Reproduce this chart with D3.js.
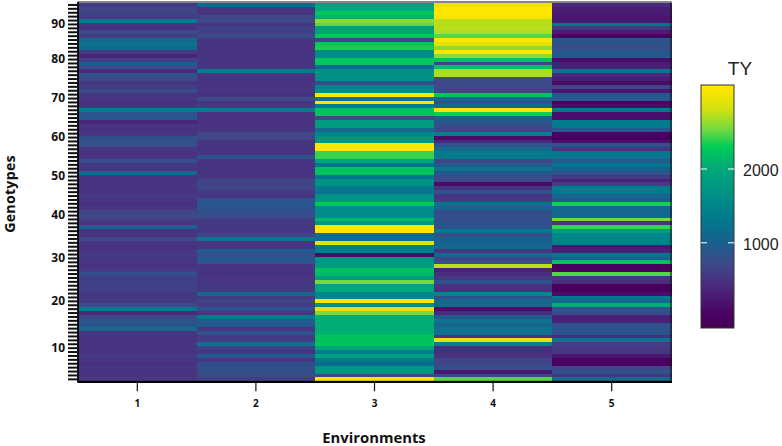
<!DOCTYPE html>
<html>
<head>
<meta charset="utf-8">
<script src="https://d3js.org/d3.v7.min.js"></script>
<style>
body{margin:0;background:#fff;}
svg{display:block;}
</style>
</head>
<body>
<svg id="svg1" width="782" height="446"></svg>
<script>
// genotype rows, top of the chart first
const genotypes = d3.range(97, 0, -1);
const environments = ["1", "2", "3", "4", "5"];
// which rows carry a label on the y axis
const tickRows = [9, 21, 32, 43, 53, 63, 73, 83, 92];
const tickLabels = ["10", "20", "30", "40", "50", "60", "70", "80", "90"];
const legendTicks = [1000, 2000];

// TY per genotype row (top row first)
const env1 = [596,687,687,626,1385,537,530,748,626,1096,
1190,1157,596,418,656,1031,779,447,842,717,
537,626,748,537,545,530,506,1385,842,935,
418,537,530,545,810,830,790,537,530,545,
779,566,566,1096,537,520,545,537,506,596,
537,530,545,687,717,626,537,1031,506,537,
717,537,530,545,566,566,537,530,596,810,
656,670,656,640,566,580,566,748,1352,447,
687,842,860,1096,537,530,545,537,520,537,
596,537,530,545,537,520,560];
const env2 = [1157,506,537,687,717,537,656,656,717,537,
537,520,537,545,537,530,537,1385,537,530,
537,545,537,530,748,537,596,1385,506,506,
506,506,537,687,687,537,537,530,537,842,
537,530,537,530,537,687,687,687,596,537,
842,903,842,810,779,596,566,566,566,687,
1222,537,537,967,779,935,842,537,537,530,
537,537,566,566,1063,596,687,596,842,537,
1352,935,935,537,842,596,596,1222,656,537,
935,537,810,810,810,748,656];
const env3 = [1918,1986,2259,2090,2640,2520,1885,1918,2259,687,
2293,2362,1550,1583,2259,2259,1157,1650,1683,1616,
748,1484,1650,3190,1222,3190,1385,2225,2225,748,
1817,1817,1096,1484,1683,1683,3190,3190,2431,2431,
1986,1255,2225,2225,1255,1683,1683,1319,1222,1650,
1717,2293,1583,1550,1583,2156,1750,3190,3190,1157,
1096,2957,1418,1418,167,1750,1750,1817,2225,2156,
1817,2570,1986,1986,1484,1550,3190,1650,2957,2605,
2054,2054,2054,2054,2088,2225,2225,2225,1952,1385,
1885,1319,1157,1750,1750,748,3190];
const env4 = [3028,3190,3190,3100,2780,2760,2770,2740,2500,3190,
2957,2640,3190,2640,2225,687,2225,2720,2730,717,
717,717,717,2225,1096,842,1157,3190,2328,1000,
903,748,687,1418,194,447,842,1096,1319,1319,
687,935,1222,935,779,687,194,537,842,537,
596,1222,1063,810,810,810,842,842,1319,779,
1031,1031,1096,537,1157,687,748,2780,390,477,
596,842,537,477,1484,842,1096,1096,167,447,
935,1222,1063,1222,1222,537,2957,1418,477,477,
537,687,687,842,304,687,2500];
const env5 = [447,361,361,304,304,1255,537,361,141,842,
842,748,903,903,248,361,390,1222,447,361,
194,687,304,903,903,115,167,1319,248,248,
1319,1319,903,141,141,248,842,537,1319,1222,
935,1255,1031,842,596,390,596,1352,1319,1063,
935,2362,1157,1063,1157,2570,537,2431,1817,1484,
1484,1418,304,390,1222,1031,2225,90,90,2500,
537,477,65,65,248,1319,1096,2054,842,748,
390,390,842,842,842,477,1222,596,596,537,
304,141,141,687,842,537,1096];
const allEnv = [env1, env2, env3, env4, env5];

// colour ramp of the legend bar
const rampStops = [0, 0.05, 0.18, 0.265, 0.35, 0.45, 0.526, 0.655, 0.746, 0.815, 0.897, 0.98, 1];
const rampColors = ["#470056","#4a0060","#4a2d7e","#3d4a8a","#1a5f8e","#007a8c","#008b88","#00a87a","#00cc55","#70d840","#cfe010","#ffe600","#ffe600"];
const tyMax = 3204;

const svg = d3.select("#svg1");
const margin = {top: 3, left: 78, right: 671, bottom: 381.3};

const x = d3.scaleBand().domain(environments).range([margin.left, margin.right]);
const y = d3.scaleBand().domain(genotypes).range([margin.top, margin.bottom]);
const toRamp = d3.scalePow().exponent(0.9).domain([0, tyMax]).range([0, 1]);
const ramp = d3.scaleLinear().domain(rampStops).range(rampColors);
const color = v => ramp(toRamp(v));

const defs = svg.append("defs");
// the picture is a little soft, so the cells get a small blur
defs.append("filter").attr("id", "soft")
  .attr("filterUnits", "userSpaceOnUse")
  .attr("x", 70).attr("y", 0).attr("width", 610).attr("height", 390)
  .append("feGaussianBlur").attr("stdDeviation", "0.4 0.45");

// heat cells
const cells = svg.append("g").attr("filter", "url(#soft)");
environments.forEach((env, i) => {
  cells.append("g").selectAll("rect")
    .data(allEnv[i])
    .enter().append("rect")
    .attr("x", x(env))
    .attr("y", (d, j) => y(genotypes[j]))
    .attr("width", x.bandwidth() + 0.6)
    .attr("height", y.bandwidth() + 0.6)
    .attr("shape-rendering", "crispEdges")
    .attr("fill", d => color(d));
});

// panel border
svg.append("rect")
  .attr("x", margin.left).attr("y", margin.top - 1)
  .attr("width", margin.right - margin.left)
  .attr("height", margin.bottom - margin.top + 1)
  .attr("fill", "none").attr("stroke", "#111").attr("stroke-width", 1);
svg.append("line").attr("x1", margin.left - 0.5).attr("x2", margin.right + 1)
  .attr("y1", margin.bottom + 0.7).attr("y2", margin.bottom + 0.7)
  .attr("stroke", "#000").attr("stroke-width", 2.2);
svg.append("line").attr("x1", margin.left).attr("x2", margin.left)
  .attr("y1", margin.top - 1).attr("y2", margin.bottom + 1)
  .attr("stroke", "#000").attr("stroke-width", 1.6);

// axes
const yAxis = d3.axisLeft(y).tickSize(10).tickPadding(3)
  .tickFormat(d => {
    const k = tickRows.indexOf(d);
    return k < 0 ? "" : tickLabels[k];
  });
const yG = svg.append("g").attr("transform", `translate(${margin.left},0)`).call(yAxis);
yG.select(".domain").remove();
yG.selectAll("line").attr("stroke", "#111").attr("stroke-width", 2);
yG.selectAll("text").style("font-family", "'Open Sans'").style("font-weight", "bold").style("font-size", "12px").attr("fill", "#111");

const xAxis = d3.axisBottom(x).tickSize(9).tickPadding(9);
const xG = svg.append("g").attr("transform", `translate(0,${margin.bottom + 1})`).call(xAxis);
xG.select(".domain").remove();
xG.selectAll("line").attr("stroke", "#111").attr("stroke-width", 1.2);
xG.selectAll("text").style("font-family", "'Open Sans'").style("font-weight", "bold").style("font-size", "10px").attr("fill", "#111");

// axis titles
svg.append("text").attr("transform", "translate(15.4,194) rotate(-90)")
  .attr("text-anchor", "middle")
  .style("font-family", "'Open Sans'").style("font-weight", "bold").style("font-size", "14.2px")
  .style("letter-spacing", "0.25px")
  .attr("fill", "#111").text("Genotypes");
svg.append("text").attr("x", 374).attr("y", 443)
  .attr("text-anchor", "middle")
  .style("font-family", "'Open Sans'").style("font-weight", "bold").style("font-size", "14.8px")
  .attr("fill", "#111").text("Environments");

// legend
const barX = 701, barW = 33, barTop = 85, barBottom = 328;
const grad = defs.append("linearGradient").attr("id", "tyRamp")
  .attr("x1", 0).attr("x2", 0).attr("y1", 1).attr("y2", 0);
grad.selectAll("stop").data(rampStops).enter().append("stop")
  .attr("offset", d => d)
  .attr("stop-color", (d, i) => rampColors[i]);
svg.append("rect").attr("x", barX).attr("y", barTop)
  .attr("width", barW).attr("height", barBottom - barTop)
  .attr("fill", "url(#tyRamp)").attr("stroke", "#333").attr("stroke-width", 1);

const legendY = d3.scalePow().exponent(0.9).domain([0, tyMax]).range([barBottom, barTop]);
legendTicks.forEach(v => {
  [[barX, barX + 6], [barX + barW - 6, barX + barW]].forEach(p => {
    svg.append("line").attr("x1", p[0]).attr("x2", p[1])
      .attr("y1", legendY(v)).attr("y2", legendY(v))
      .attr("stroke", "#fff").attr("stroke-width", 1);
  });
  svg.append("text").attr("x", 743).attr("y", legendY(v) + 7)
    .style("font-family", "'Liberation Sans'").style("font-size", "16px")
    .attr("fill", "#222").text(d3.format("d")(v));
});
svg.append("text").attr("x", 740).attr("y", 75)
  .attr("text-anchor", "middle")
  .style("font-family", "'Liberation Sans'").style("font-size", "19px")
  .attr("fill", "#222").text("TY");
</script>
</body>
</html>
